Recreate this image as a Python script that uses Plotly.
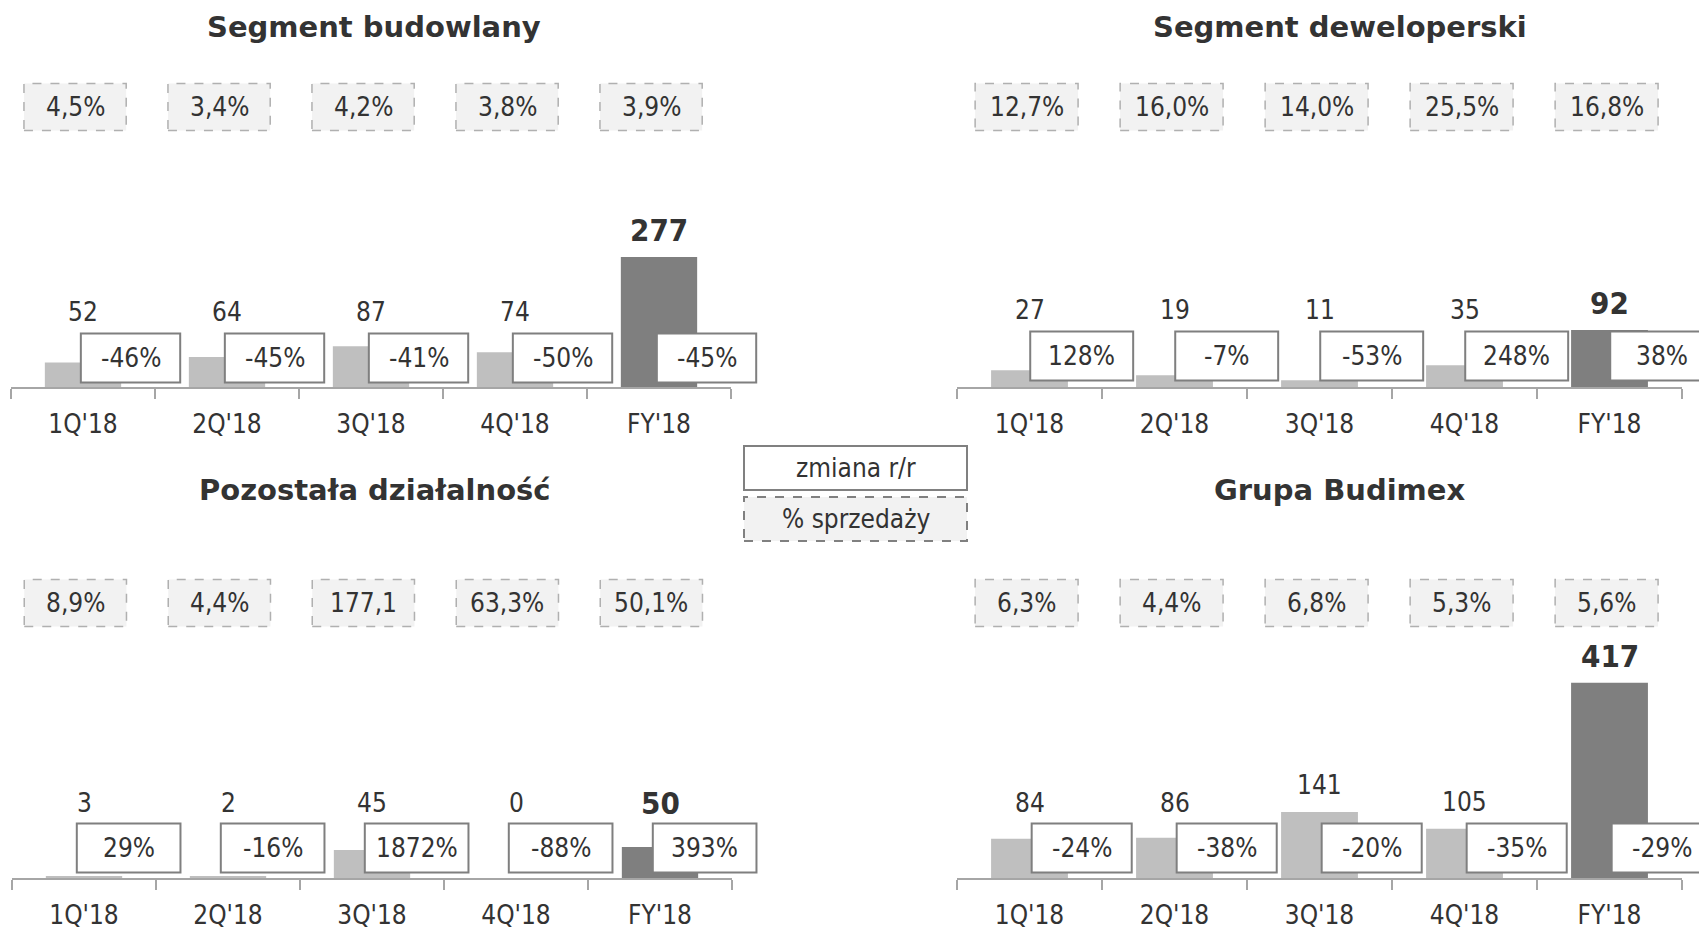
import plotly.graph_objects as go

W, H = 1699, 929

categories = ["1Q'18", "2Q'18", "3Q'18", "4Q'18", "FY'18"]

titles = ["Segment budowlany", "Segment deweloperski", "Pozostała działalność", "Grupa Budimex"]

bud_values = [52, 64, 87, 74, 277]
bud_change = ["-46%", "-45%", "-41%", "-50%", "-45%"]
bud_margin = ["4,5%", "3,4%", "4,2%", "3,8%", "3,9%"]

dew_values = [27, 19, 11, 35, 92]
dew_change = ["128%", "-7%", "-53%", "248%", "38%"]
dew_margin = ["12,7%", "16,0%", "14,0%", "25,5%", "16,8%"]

poz_values = [3, 2, 45, 0, 50]
poz_change = ["29%", "-16%", "1872%", "-88%", "393%"]
poz_margin = ["8,9%", "4,4%", "177,1", "63,3%", "50,1%"]

grp_values = [84, 86, 141, 105, 417]
grp_change = ["-24%", "-38%", "-20%", "-35%", "-29%"]
grp_margin = ["6,3%", "4,4%", "6,8%", "5,3%", "5,6%"]

legend_labels = ["zmiana r/r", "% sprzedaży"]

series = [
    (bud_values, bud_change, bud_margin),
    (dew_values, dew_change, dew_margin),
    (poz_values, poz_change, poz_margin),
    (grp_values, grp_change, grp_margin),
]

# panel geometry in pixels / category units
panels = [
    dict(x0=11, x1=731, base=387, top=140, scale=0.469, tx=374, ty=27, my=107, cy=358,
         moff=-0.055, coff=0.33, cw=0.69),
    dict(x0=957, x1=1682, base=387, top=140, scale=0.62, tx=1340, ty=27, my=107, cy=356,
         moff=-0.02, coff=0.36, cw=0.71),
    dict(x0=12, x1=732, base=878, top=640, scale=0.62, tx=375, ty=490, my=603, cy=848,
         moff=-0.06, coff=0.31, cw=0.72),
    dict(x0=957, x1=1682, base=878, top=640, scale=0.468, tx=1340, ty=490, my=603, cy=848,
         moff=-0.02, coff=0.36, cw=0.69),
]

FONT = "DejaVu Sans Condensed, DejaVu Sans, sans-serif"
TFONT = "DejaVu Sans, sans-serif"
TXT = "#333333"
LIGHT = "#bfbfbf"
DARK = "#7f7f7f"
N = len(categories)


def px(x):
    return x / W


def py(y):
    return 1 - y / H


def dom(c):
    # category position (index units) -> fraction of x-axis domain
    return (c + 0.5) / N


def txt(**kw):
    d = dict(showarrow=False, xanchor="center", yanchor="middle")
    d.update(kw)
    return d


fig = go.Figure()
shapes = []
annotations = []
layout = {}

for k, (p, (vals, chg, mrg), title) in enumerate(zip(panels, series, titles)):
    sfx = "" if k == 0 else str(k + 1)
    xa, ya = "x" + sfx, "y" + sfx
    xd = xa + " domain"
    s = p["scale"]
    colors = [LIGHT] * (N - 1) + [DARK]
    fig.add_trace(go.Bar(x=categories, y=vals, marker=dict(color=colors, line=dict(width=0)),
                         width=0.53, xaxis=xa, yaxis=ya, showlegend=False, hoverinfo="skip"))
    layout["xaxis" + sfx] = dict(
        domain=[px(p["x0"]), px(p["x1"])], type="category", range=[-0.5, N - 0.5],
        showline=True, linecolor="#a6a6a6", linewidth=1.5, ticks="outside", tickson="boundaries",
        ticklen=10, tickwidth=1.5, tickcolor="#a6a6a6", showgrid=False, zeroline=False,
        tickfont=dict(family=FONT, size=26, color=TXT), ticklabelstandoff=13,
        anchor=ya, fixedrange=True)
    layout["yaxis" + sfx] = dict(
        domain=[py(p["base"]), py(p["top"])], range=[0, (p["base"] - p["top"]) / s],
        visible=False, anchor=xa, fixedrange=True)

    # title
    annotations.append(txt(x=px(p["tx"]), y=py(p["ty"]), xref="paper", yref="paper",
                           text="<b>%s</b>" % title,
                           font=dict(family=TFONT, size=29, color=TXT)))

    box_top_above = p["base"] - (p["cy"] - 24.5)
    for i, cat in enumerate(categories):
        v = vals[i]
        is_fy = i == N - 1
        # value label
        ly = max(v + 27 / s, (box_top_above + 21) / s)
        annotations.append(txt(x=i, y=ly, xref=xa, yref=ya,
                               text=("<b>%d</b>" % v) if is_fy else str(v),
                               font=dict(family=FONT, size=31 if is_fy else 26, color=TXT)))
        # change box (solid)
        cx = i + p["coff"]
        hw = p["cw"] / 2
        shapes.append(dict(type="rect", xref=xd, yref="paper", x0=dom(cx - hw), x1=dom(cx + hw),
                           y0=py(p["cy"] + 24.5), y1=py(p["cy"] - 24.5),
                           fillcolor="white", line=dict(color="#7f7f7f", width=2), layer="above"))
        annotations.append(txt(x=dom(cx), y=py(p["cy"]), xref=xd, yref="paper",
                               text=chg[i], font=dict(family=FONT, size=26, color=TXT)))
        # margin box (dashed)
        mx = i + p["moff"]
        shapes.append(dict(type="rect", xref=xd, yref="paper", x0=dom(mx - 0.355), x1=dom(mx + 0.355),
                           y0=py(p["my"] + 23.5), y1=py(p["my"] - 23.5),
                           fillcolor="#f2f2f2", line=dict(color="#b0b0b0", width=1.5, dash="dash"),
                           layer="above"))
        annotations.append(txt(x=dom(mx), y=py(p["my"]), xref=xd, yref="paper",
                               text=mrg[i], font=dict(family=FONT, size=26, color=TXT)))

# legend
shapes.append(dict(type="rect", xref="paper", yref="paper", x0=px(744), x1=px(967),
                   y0=py(490), y1=py(446), fillcolor="white",
                   line=dict(color="#808080", width=2)))
shapes.append(dict(type="rect", xref="paper", yref="paper", x0=px(744), x1=px(967),
                   y0=py(541), y1=py(497), fillcolor="#f2f2f2",
                   line=dict(color="#808080", width=2, dash="dash")))
annotations.append(txt(x=px(855.5), y=py(468), xref="paper", yref="paper",
                       text=legend_labels[0], font=dict(family=FONT, size=26, color=TXT)))
annotations.append(txt(x=px(855.5), y=py(519), xref="paper", yref="paper",
                       text=legend_labels[1], font=dict(family=FONT, size=26, color=TXT)))

fig.update_layout(width=W, height=H, margin=dict(l=0, r=0, t=0, b=0),
                  paper_bgcolor="white", plot_bgcolor="white", showlegend=False,
                  shapes=shapes, annotations=annotations, font=dict(family=FONT), **layout)

fig.write_html("out.html", config={"displayModeBar": False},
               post_script="document.body.style.margin='0';document.body.style.overflow='hidden';")
